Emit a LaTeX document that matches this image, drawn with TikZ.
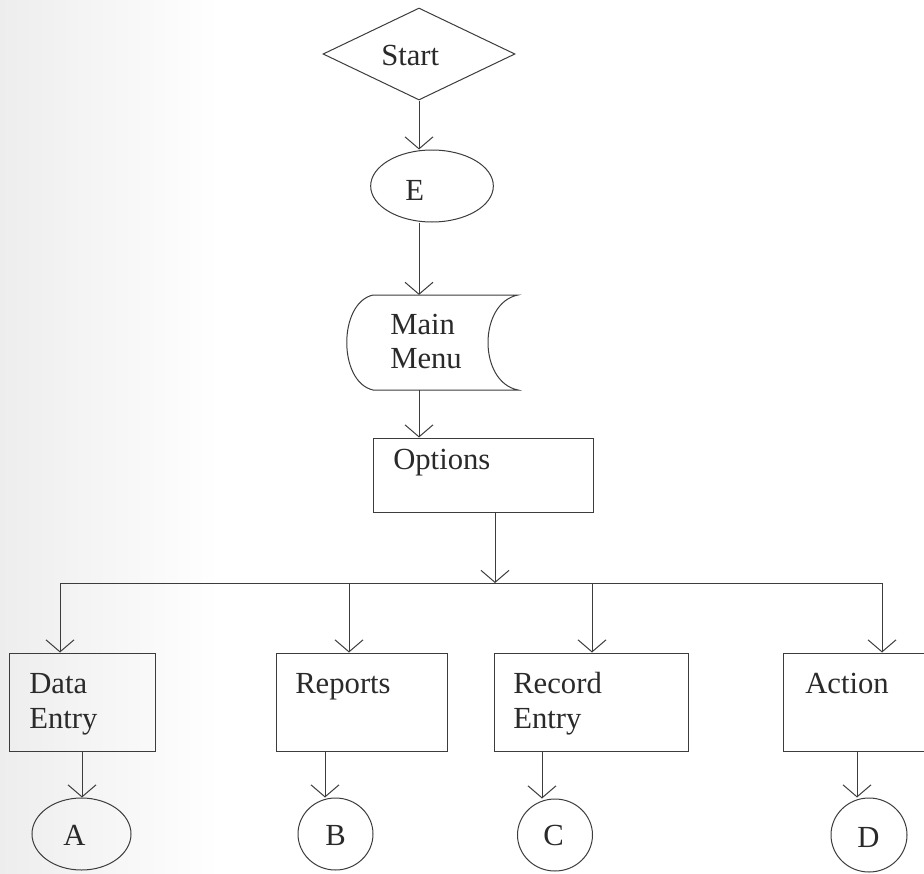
\documentclass[tikz,border=0pt]{standalone}
\usepackage{fontspec}
\setmainfont{Liberation Serif}
\usetikzlibrary{arrows.meta,shapes.geometric}

\definecolor{ink}{HTML}{3C3C3C}
\definecolor{txt}{HTML}{2A2A2A}

\tikzset{
  shapeline/.style={draw=ink, line width=0.75pt},
  box/.style={shapeline, rectangle, inner sep=0pt},
  oval/.style={shapeline, ellipse, inner sep=0pt},
  decision/.style={shapeline, diamond, inner sep=0pt},
  lbl/.style={anchor=base west, inner sep=0pt, text=txt,
              font=\fontsize{23pt}{27pt}\selectfont},
  link/.style={draw=ink, line width=0.75pt},
  arr/.style={link, -{Straight Barb[length=9pt, width=21pt, line width=0.75pt]}},
}

\begin{document}
\begin{tikzpicture}[x=0.75pt, y=-0.75pt]
  \clip (0,0) rectangle (924,874);
  \fill[white] (0,0) rectangle (924,874);
  % faint paper tone along the left edge
  \shade[left color=black!7, right color=white] (0,0) rectangle (220,874);

  % ---- vertical chain ----
  \node[decision, minimum width=144pt, minimum height=69pt] (start) at (419,54) {};
  \node[lbl] (tStart) at (381,65) {Start};

  \node[oval, minimum width=92pt, minimum height=54pt] (E) at (432,186) {};
  \node[lbl] (tE) at (405,200) {E};

  % stored-data shaped main menu
  \node[inner sep=0pt, minimum width=128pt, minimum height=71pt] (mm) at (432.5,342.5) {};
  \draw[shapeline] (373,295) -- (518,295)
    .. controls (478,303) and (478,382) .. (518,390)
    -- (373,390)
    .. controls (338,382) and (338,303) .. (373,295) -- cycle;
  \node[lbl] (tMain) at (390,334) {Main};
  \node[lbl] (tMenu) at (390,368) {Menu};

  \node[box, minimum width=165pt, minimum height=55.5pt] (opt) at (483,475) {};
  \node[lbl] (tOpt) at (393,469) {Options};

  % ---- option boxes ----
  \node[box, minimum width=109.5pt, minimum height=73.5pt] (de) at (82,702) {};
  \node[lbl] (tData) at (29,693) {Data};
  \node[lbl] (tEntry1) at (29,728) {Entry};

  \node[box, minimum width=128.25pt, minimum height=73.5pt] (rp) at (361.5,702) {};
  \node[lbl] (tRep) at (295,693) {Reports};

  \node[box, minimum width=145.5pt, minimum height=73.5pt] (re) at (591,702) {};
  \node[lbl] (tRec) at (513,693) {Record};
  \node[lbl] (tEntry2) at (513,728) {Entry};

  \node[box, minimum width=132.75pt, minimum height=73.5pt] (ac) at (871.5,702) {};
  \node[lbl] (tAct) at (805,693) {Action};

  % ---- connectors ----
  \node[oval, minimum width=74.25pt, minimum height=54pt] (A) at (81.5,834) {};
  \node[lbl] (tA) at (63,845) {A};
  \node[oval, minimum width=56.25pt, minimum height=54pt] (B) at (335.5,834) {};
  \node[lbl] (tB) at (325,845) {B};
  \node[oval, minimum width=56.25pt, minimum height=54pt] (C) at (555,835) {};
  \node[lbl] (tC) at (543,845) {C};
  \node[oval, minimum width=57pt, minimum height=55.5pt] (D) at (869,835) {};
  \node[lbl] (tD) at (857,847) {D};

  % ---- flow lines ----
  \draw[arr] (start.south) -- (start.south |- E.north);
  \draw[arr] (E.south -| start.south) -- (mm.north -| start.south);
  \draw[arr] (mm.south -| start.south) -- (opt.north -| start.south);

  \coordinate (bus) at (495,583);
  \coordinate (b1) at (60,583);
  \coordinate (b2) at (349,583);
  \coordinate (b3) at (592,583);
  \coordinate (b4) at (882,583);
  \draw[arr] (opt.south -| bus) -- (bus);
  \draw[link] (b1) -- (b4);
  \draw[arr] (b1) -- (b1 |- de.north);
  \draw[arr] (b2) -- (b2 |- rp.north);
  \draw[arr] (b3) -- (b3 |- re.north);
  \draw[arr] (b4) -- (b4 |- ac.north);

  \coordinate (dA) at (82,0);
  \coordinate (dB) at (325,0);
  \coordinate (dC) at (542,0);
  \coordinate (dD) at (857,0);
  \draw[arr] (de.south -| dA) -- (A.north -| dA);
  \draw[arr] (rp.south -| dB) -- (B.north -| dB);
  \draw[arr] (re.south -| dC) -- (C.north -| dC);
  \draw[arr] (ac.south -| dD) -- (D.north -| dD);
\end{tikzpicture}
\end{document}
